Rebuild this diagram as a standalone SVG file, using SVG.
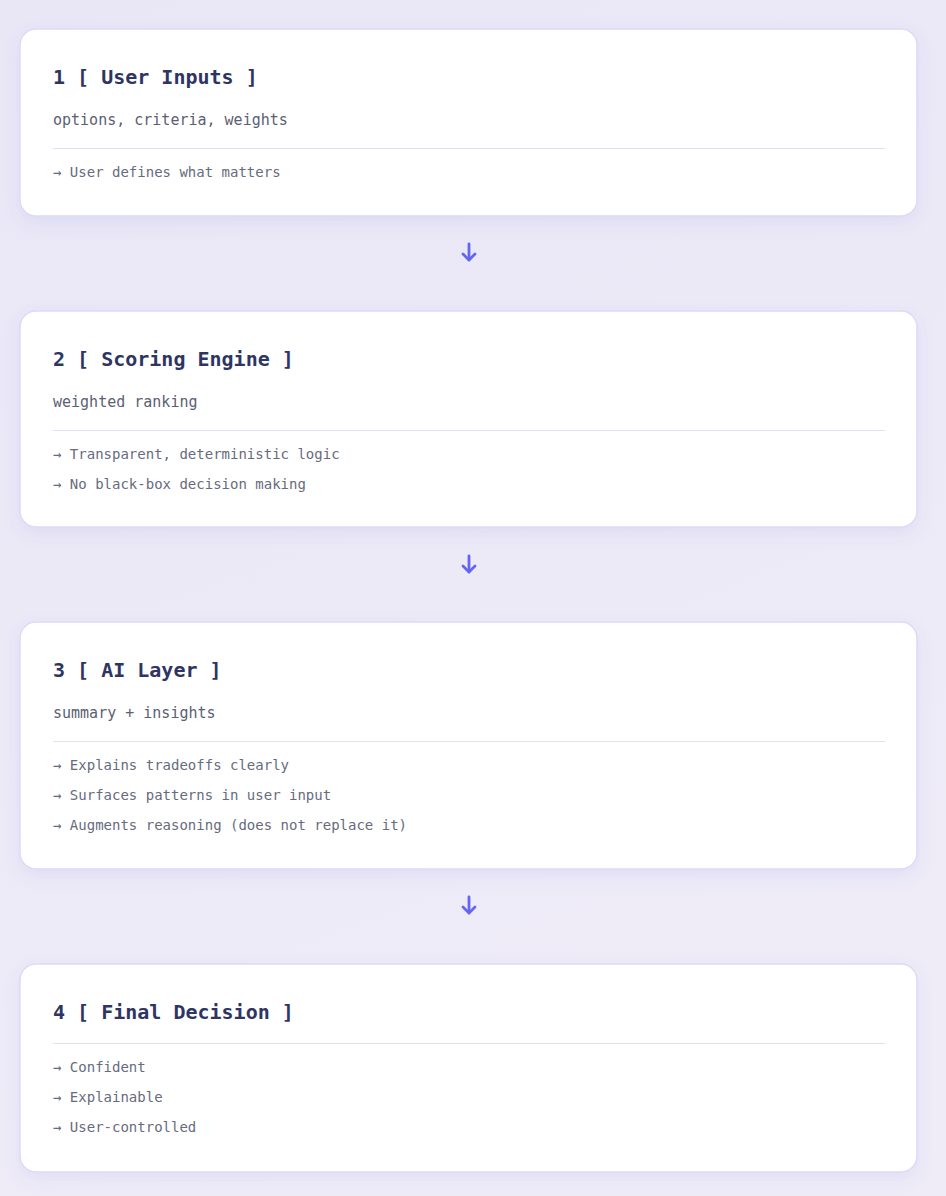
<svg xmlns="http://www.w3.org/2000/svg" width="946" height="1196" viewBox="0 0 946 1196">
<defs>
<linearGradient id="bg" x1="0" y1="0" x2="0.3" y2="1">
<stop offset="0" stop-color="#e9e7f6"/>
<stop offset="1" stop-color="#efecf8"/>
</linearGradient>
<filter id="sh" x="-10%" y="-20%" width="120%" height="150%">
<feDropShadow dx="0" dy="6" stdDeviation="8" flood-color="#5b5fc7" flood-opacity="0.10"/>
</filter>
<style>
.card{fill:#ffffff;stroke:#dcdaf7;stroke-width:1.5;filter:url(#sh)}
.title{font-family:"DejaVu Sans Mono","Liberation Mono",monospace;font-size:20px;font-weight:bold;fill:#2e3563}
.sub{font-family:"DejaVu Sans Mono","Liberation Mono",monospace;font-size:15px;fill:#5b6072}
.item{font-family:"DejaVu Sans Mono","Liberation Mono",monospace;font-size:14px;fill:#676b7d}
.div{stroke:#e2e0f6;stroke-width:1}
.arrow{fill:none;stroke:#6366f1;stroke-width:2.8;stroke-linecap:round;stroke-linejoin:round}
</style>
</defs>
<rect width="946" height="1196" fill="url(#bg)"/>
<g id="connectors">
<g class="arrow"><line x1="469" y1="244" x2="469" y2="260"/><polyline points="463,254 469,260 475,254"/></g>
<g class="arrow"><line x1="469" y1="556" x2="469" y2="572"/><polyline points="463,566 469,572 475,566"/></g>
<g class="arrow"><line x1="469" y1="897" x2="469" y2="913"/><polyline points="463,907 469,913 475,907"/></g>
</g>
<g id="node1">
<rect class="card" x="20" y="29" width="897" height="187" rx="16"/>
<text class="title" x="53" y="84">1 [ User Inputs ]</text>
<text class="sub" x="53" y="125">options, criteria, weights</text>
<line class="div" x1="53" y1="148.5" x2="885" y2="148.5"/>
<text class="item" x="53" y="177">→ User defines what matters</text>
</g>
<g id="node2">
<rect class="card" x="20" y="311" width="897" height="216" rx="16"/>
<text class="title" x="53" y="366">2 [ Scoring Engine ]</text>
<text class="sub" x="53" y="407">weighted ranking</text>
<line class="div" x1="53" y1="430.5" x2="885" y2="430.5"/>
<text class="item" x="53" y="459">→ Transparent, deterministic logic</text>
<text class="item" x="53" y="489">→ No black-box decision making</text>
</g>
<g id="node3">
<rect class="card" x="20" y="622" width="897" height="247" rx="16"/>
<text class="title" x="53" y="677">3 [ AI Layer ]</text>
<text class="sub" x="53" y="718">summary + insights</text>
<line class="div" x1="53" y1="741.5" x2="885" y2="741.5"/>
<text class="item" x="53" y="770">→ Explains tradeoffs clearly</text>
<text class="item" x="53" y="800">→ Surfaces patterns in user input</text>
<text class="item" x="53" y="830">→ Augments reasoning (does not replace it)</text>
</g>
<g id="node4">
<rect class="card" x="20" y="964" width="897" height="208" rx="16"/>
<text class="title" x="53" y="1019">4 [ Final Decision ]</text>
<line class="div" x1="53" y1="1043.5" x2="885" y2="1043.5"/>
<text class="item" x="53" y="1072">→ Confident</text>
<text class="item" x="53" y="1102">→ Explainable</text>
<text class="item" x="53" y="1132">→ User-controlled</text>
</g>
</svg>
